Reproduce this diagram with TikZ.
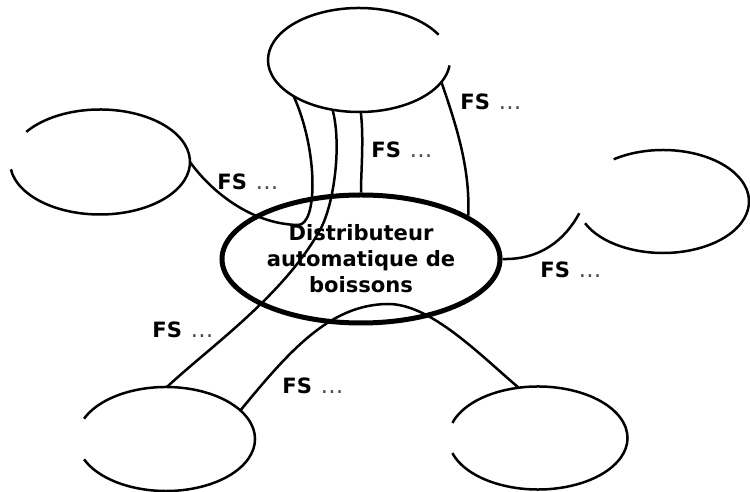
\documentclass[tikz,border=0pt]{standalone}
\usepackage{fontspec}
\setmainfont{DejaVu Sans}
\usetikzlibrary{shapes.geometric}

\begin{document}
\begin{tikzpicture}[x=0.2mm,y=-0.2mm,
  elem/.style={ellipse,inner sep=0pt,outer sep=0pt},
  contour/.style={line width=0.5mm},
  liaison/.style={line width=0.5mm},
  systeme/.style={ellipse,draw,line width=1mm,inner sep=0pt,minimum width=55.6mm,minimum height=25.6mm,
    align=center,font=\bfseries\fontsize{12}{14.8}\selectfont},
  fs/.style={anchor=west,inner sep=0pt,font=\fontsize{12}{14}\selectfont}]
\useasboundingbox (0,0) rectangle (750,492);
% elements exterieurs
\node[elem,minimum width=36.4mm,minimum height=20.8mm] (haut) at (359,60) {};
\node[elem,minimum width=36mm,minimum height=21mm] (gauche) at (100,162) {};
\node[elem,minimum width=34.4mm,minimum height=20.6mm] (droite) at (663,201.5) {};
\node[elem,minimum width=35.6mm,minimum height=20.8mm] (basgauche) at (166,439) {};
\node[elem,minimum width=35.8mm,minimum height=20.6mm] (basdroite) at (538,438) {};
\draw[contour] (haut.center) ++(29:18.2mm and 10.4mm) arc[start angle=29,end angle=354,x radius=18.2mm,y radius=10.4mm];
\draw[contour] (gauche.center) ++(188:18mm and 10.5mm) arc[start angle=188,end angle=505,x radius=18mm,y radius=10.5mm];
\draw[contour] (droite.center) ++(205:17.2mm and 10.3mm) arc[start angle=205,end angle=485,x radius=17.2mm,y radius=10.3mm];
\draw[contour] (basgauche.center) ++(203:17.8mm and 10.4mm) arc[start angle=203,end angle=517,x radius=17.8mm,y radius=10.4mm];
\draw[contour] (basdroite.center) ++(197:17.9mm and 10.3mm) arc[start angle=197,end angle=523,x radius=17.9mm,y radius=10.3mm];
% le produit
\node[systeme] (produit) at (361,259) {Distributeur\\automatique de\\boissons};
% fonctions de service
\draw[liaison] (gauche.east) .. controls (210,190) and (250,224) .. (298,225)
   .. controls (318,225) and (318,150) .. (haut.209);
\draw[liaison] (haut.242) .. controls (342,145) and (334,205) .. (320,230)
   .. controls (283,296) and (211,346) .. (basgauche.89);
\draw[liaison] (haut.272) .. controls (364,140) and (361,170) .. (produit.90);
\draw[liaison] (haut.-15) .. controls (458,130) and (470,170) .. (produit.22);
\draw[liaison] (produit.east) .. controls (540,260) and (565,240) .. (droite.188);
\draw[liaison] (basgauche.21) .. controls (290,350) and (330,305) .. (387,304)
   .. controls (430,303) and (480,355) .. (basdroite.111);
\node[fs] (fs1) at (460,102) {\textbf{FS}\hspace{5pt}{\fontsize{13}{13}\selectfont\color{black!70}…}};
\node[fs] (fs2) at (371,150) {\textbf{FS}\hspace{5pt}{\fontsize{13}{13}\selectfont\color{black!70}…}};
\node[fs] (fs3) at (217,182) {\textbf{FS}\hspace{5pt}{\fontsize{13}{13}\selectfont\color{black!70}…}};
\node[fs] (fs4) at (540,270) {\textbf{FS}\hspace{5pt}{\fontsize{13}{13}\selectfont\color{black!70}…}};
\node[fs] (fs5) at (152,330) {\textbf{FS}\hspace{5pt}{\fontsize{13}{13}\selectfont\color{black!70}…}};
\node[fs] (fs6) at (282,386) {\textbf{FS}\hspace{5pt}{\fontsize{13}{13}\selectfont\color{black!70}…}};
\end{tikzpicture}
\end{document}
